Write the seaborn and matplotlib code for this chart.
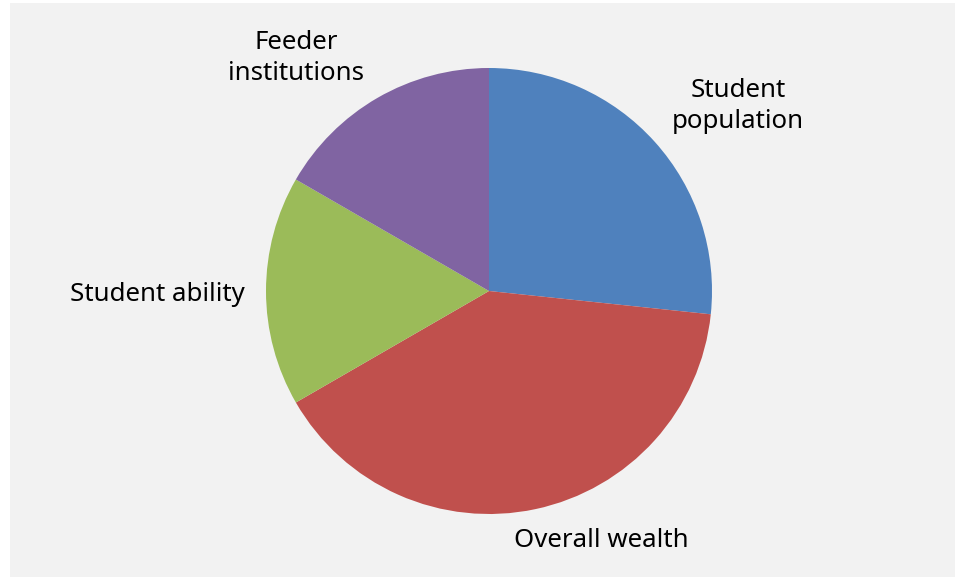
import matplotlib
matplotlib.use("Agg")
import matplotlib.pyplot as plt
import seaborn as sns
from matplotlib.patches import Rectangle

categories = ["Student population", "Overall wealth", "Student ability", "Feeder institutions"]
label_text = ["Student\npopulation", "Overall wealth", "Student ability", "Feeder\ninstitutions"]
values = [8, 12, 5, 5]
colors = ["#4f81bd", "#c0504d", "#9bbb59", "#8064a2"]

sns.set_style("white")
plt.rcParams["font.family"] = ["Noto Sans", "DejaVu Sans"]

W, H = 955, 577
fig = plt.figure(figsize=(W / 100, H / 100), dpi=100)
fig.patch.set_facecolor("white")
bg = Rectangle((10 / W, 0), 1 - 10 / W, 1 - 3 / H, transform=fig.transFigure,
               facecolor="#f2f2f2", edgecolor="none", zorder=-10)
fig.add_artist(bg)

cx, cy, r = 489, 291, 223
ax = fig.add_axes([(cx - r) / W, (H - cy - r) / H, 2 * r / W, 2 * r / H])
ax.set_zorder(1)
ax.set_facecolor("none")
palette = sns.color_palette(colors)
ax.pie(values, colors=palette, startangle=90, counterclock=False,
       wedgeprops=dict(linewidth=0, antialiased=True))
ax.set_xlim(-1, 1)
ax.set_ylim(-1, 1)
ax.set_aspect("equal")
ax.axis("off")

label_pos = [(1.117, 0.83), (0.502, -1.12), (-1.489, -0.015), (-0.865, 1.045)]
for txt, (x, y) in zip(label_text, label_pos):
    ax.text(x, y, txt, ha="center", va="center", fontsize=18.6, color="#000000",
            linespacing=1.3, clip_on=False)

fig.savefig("out.png", dpi=100)
